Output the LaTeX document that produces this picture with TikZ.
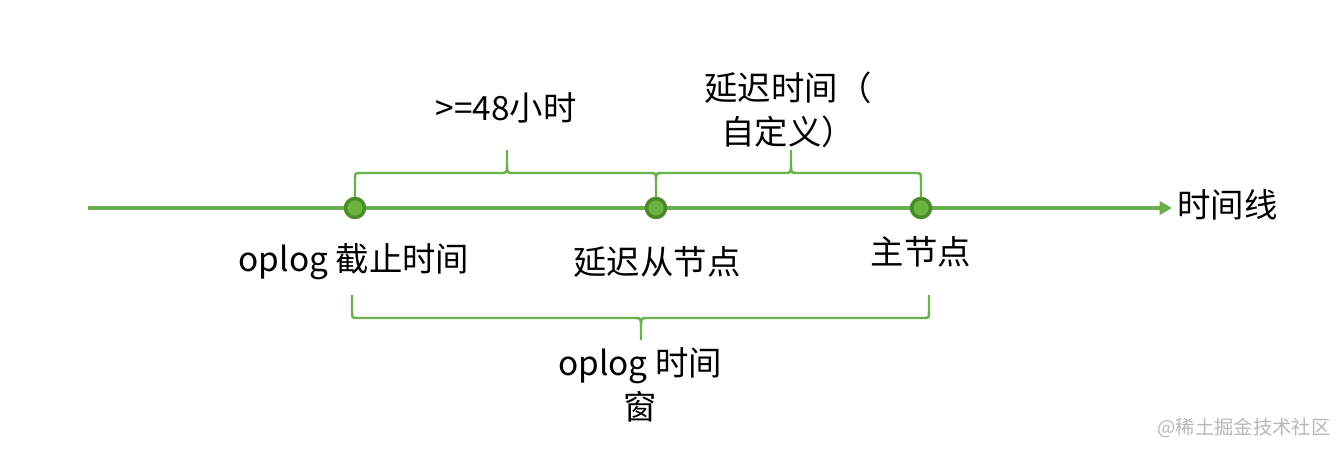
\documentclass[tikz,border=0pt]{standalone}
\usepackage{fontspec}
\setmainfont{Noto Sans CJK SC}
\usetikzlibrary{arrows.meta}
\definecolor{lineGreen}{HTML}{6AB04C}
\definecolor{dotFill}{HTML}{6DB33F}
\definecolor{dotRim}{HTML}{4A8A2A}
\tikzset{
  dot/.style={circle, fill=dotFill, draw=dotRim, line width=2pt, minimum size=0.38cm, inner sep=0pt},
  bracket/.style={draw=lineGreen, line width=1.4pt, line join=round},
  lbl/.style={font=\fontsize{19}{25}\selectfont, align=center, inner sep=0pt}
}
\begin{document}
\begin{tikzpicture}[x=0.02cm, y=-0.02cm]
\useasboundingbox[fill=white] (0,0) rectangle (1340,454);
% time line
\coordinate (start) at (88,208);
\coordinate (tip) at (1172,208);
\draw[draw=lineGreen, line width=1.9pt, -{Triangle[length=7pt,width=7.5pt]}] (start) -- (tip);
\node[lbl, anchor=west] (axis) at (1177,205) {时间线};
% points in time
\node[dot] (cutoff) at (355,208) {};
\node[dot] (delayed) at (656,208) {};
\node[dot] (primary) at (921,208) {};
\node[lbl] (lcutoff) at (354,262) {oplog 截止时间};
\node[lbl] (ldelayed) at (657,262) {延迟从节点};
\node[lbl] (lprimary) at (921,252) {主节点};
% upper brackets
\draw[bracket] (355,197) -- (355,179) .. controls (355,173) .. (361,173) -- (500,173)
  .. controls (507,173) .. (507,165) -- (507,150);
\draw[bracket] (507,165) .. controls (507,173) .. (514,173) -- (649,173)
  .. controls (656,173) .. (656,180) -- (656,197);
\draw[bracket] (656,180) .. controls (656,173) .. (663,173) -- (784,173)
  .. controls (791,173) .. (791,165) -- (791,150);
\draw[bracket] (791,165) .. controls (791,173) .. (798,173) -- (914,173)
  .. controls (921,173) .. (921,179) -- (921,197);
\node[lbl] (lhours) at (506,108) {>=48小时};
\node[lbl] (ldelay) at (788,110) {延迟时间（\\自定义）};
% lower bracket
\draw[bracket] (352,295) -- (352,312) .. controls (352,318) .. (358,318) -- (634,318)
  .. controls (641,318) .. (641,326) -- (641,340);
\draw[bracket] (641,326) .. controls (641,318) .. (648,318) -- (923,318)
  .. controls (929,318) .. (929,312) -- (929,295);
\node[lbl] (lwindow) at (640,385) {oplog 时间\\窗};
\node[font=\fontsize{11}{13}\selectfont, text=black!28, inner sep=0pt] (mark) at (1244,428) {@稀土掘金技术社区};
\end{tikzpicture}
\end{document}
